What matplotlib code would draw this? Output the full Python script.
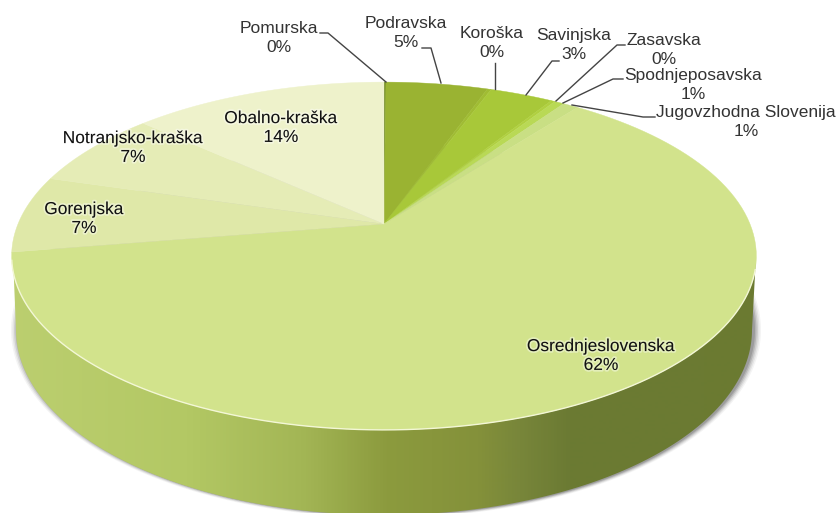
import numpy as np
import matplotlib
matplotlib.use("Agg")
import matplotlib.pyplot as plt
import matplotlib.patheffects as pe
from matplotlib.patches import Polygon
from matplotlib.colors import LinearSegmentedColormap

plt.rcParams['font.family'] = ['Liberation Sans', 'DejaVu Sans']

# data, clockwise from 12 o'clock
regions = ['Pomurska', 'Podravska', 'Koroška', 'Savinjska', 'Zasavska', 'Spodnjeposavska',
           'Jugovzhodna Slovenija', 'Osrednjeslovenska', 'Gorenjska', 'Notranjsko-kraška', 'Obalno-kraška']
values = [0.1, 5.3, 0.2, 3.3, 0.2, 0.5, 0.8, 62.3, 7.2, 7.2, 13.3]
pct_labels = ['0%', '5%', '0%', '3%', '0%', '1%', '1%', '62%', '7%', '7%', '14%']
colors = ['#6f8a22', '#9ab332', '#a0bc33', '#a8c839', '#b0d040', '#b9d955', '#c9df84',
          '#d2e38c', '#dfe8a8', '#e5ecb6', '#eef2cb']

# label layout in pixels (centre of the two lines)
label_pos = [(279, 38), (406, 33), (492, 43), (574, 45), (664, 50), (693, 85),
             (746, 122), (601, 356), (84, 219), (133, 148), (281, 128)]
on_pie = [False, False, False, False, False, False, False, True, True, True, True]
leaders = {
    'Pomurska': [(320, 33), (328, 33), (386, 82)],
    'Podravska': [(422, 48), (431, 48), (441, 83)],
    'Koroška': [(495, 63), (495, 89)],
    'Savinjska': [(559, 61), (552, 61), (526, 95)],
    'Zasavska': [(625, 45), (617, 45), (556, 101)],
    'Spodnjeposavska': [(623, 79), (613, 79), (563, 103)],
    'Jugovzhodna Slovenija': [(655, 117), (643, 117), (572, 105)],
}


# perspective of the pie disc, theta clockwise from the top
def project(theta, r=1.0):
    x = r * np.sin(theta)
    y = r * np.cos(theta)
    w = 1 + 0.184 * y
    return 384 + 366 * x / w, 224 - 168 * y / w


fig = plt.figure(figsize=(8.38, 5.13), dpi=100)
ax = fig.add_axes([0, 0, 1, 1])
ax.set_xlim(0, 838)
ax.set_ylim(513, 0)
ax.axis('off')

# soft shadow behind the body
t = np.linspace(0, 2 * np.pi, 400)
for grow, alpha in [(7, 0.06), (5.5, 0.09), (4, 0.13), (2.5, 0.18), (1, 0.22)]:
    ax.fill(386 + (368 + grow) * np.cos(t), 330 + (185 + grow * 0.4) * np.sin(t),
            color='#444444', alpha=alpha, lw=0, zorder=1)

# side of the cylinder with left-to-right shading
side_cmap = LinearSegmentedColormap.from_list('side', [
    (0.0, '#bccf70'), (0.22, '#b3c864'), (0.36, '#a3b655'), (0.46, '#8c9b3e'),
    (0.57, '#84913a'), (0.62, '#78863a'), (0.68, '#6b7a33'), (1.0, '#6b7b31')])
img = ax.imshow(np.linspace(0, 1, 838).reshape(1, -1), cmap=side_cmap, aspect='auto',
                extent=[0, 838, 513, 0], zorder=2)
tb = np.linspace(np.pi, 0, 300)
side_xy = np.column_stack([384 + 368 * np.cos(tb), 330 + 185 * np.sin(tb)])
side_xy = np.vstack([[(13, 256)], side_xy, [(756, 256)]])
side_patch = Polygon(side_xy, closed=True, transform=ax.transData, fc='none', ec='none')
ax.add_patch(side_patch)
img.set_clip_path(side_patch)
ax.set_xlim(0, 838)
ax.set_ylim(513, 0)

# top face, one wedge per region
edges = np.cumsum([0] + values) / sum(values) * 2 * np.pi
for i, c in enumerate(colors):
    th = np.linspace(edges[i], edges[i + 1], 120)
    px, py = project(th)
    ax.fill(np.r_[384, px], np.r_[224, py], color=c, lw=0.3, zorder=3)

# bright rim along the front of the disc
th = np.linspace(np.radians(105), np.radians(258), 300)
px, py = project(th)
ax.plot(px, py, color='#f3f7d6', lw=1.0, zorder=4)

for path in leaders.values():
    ax.plot([p[0] for p in path], [p[1] for p in path], color='#444444', lw=1, zorder=5)

for name, pct, pos, inside in zip(regions, pct_labels, label_pos, on_pie):
    txt = ax.text(pos[0], pos[1], name + '\n' + pct, ha='center', va='center', fontsize=12.5,
                  linespacing=1.32, color='#111111' if inside else '#333333', zorder=6)
    if inside:
        txt.set_path_effects([pe.withStroke(linewidth=2.5, foreground='white', alpha=0.4)])

fig.savefig('out.png', dpi=100)
